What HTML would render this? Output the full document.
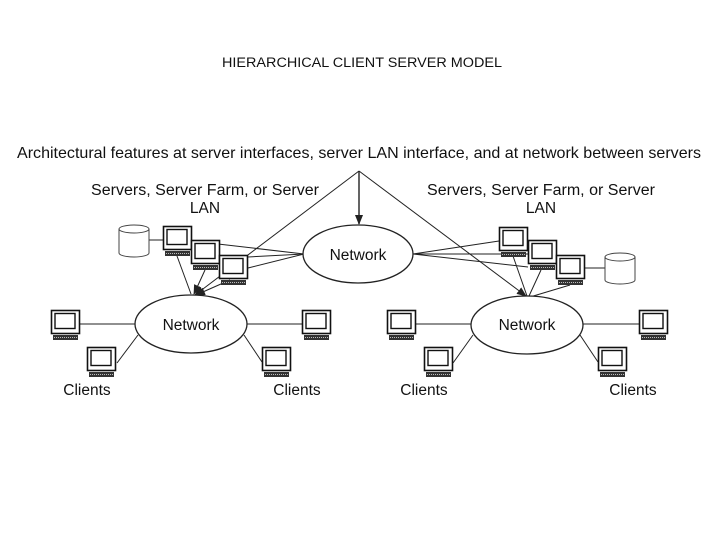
<!DOCTYPE html>
<html><head><style>
html,body{margin:0;padding:0;background:#fff;}
svg{display:block;}
text{font-family:"Liberation Sans",sans-serif;fill:#111;}
</style></head><body>
<svg width="720" height="540" viewBox="0 0 720 540" xmlns="http://www.w3.org/2000/svg">
<defs>
<g id="m">
<rect x="0.5" y="0.5" width="28" height="23" fill="#fff" stroke="#111" stroke-width="1.6"/>
<rect x="4" y="3.5" width="20" height="15" fill="#fff" stroke="#111" stroke-width="1.4"/>
<rect x="2" y="25" width="25" height="5" fill="#333"/>
<line x1="3" y1="27.5" x2="26" y2="27.5" stroke="#bbb" stroke-width="1" stroke-dasharray="1,1"/>
</g>
<marker id="a" markerWidth="10" markerHeight="8" refX="9" refY="4" orient="auto" markerUnits="userSpaceOnUse">
<path d="M0,0 L10,4 L0,8 Z" fill="#222"/>
</marker>
</defs>
<text x="362" y="67" font-size="13.5" text-anchor="middle" textLength="280" lengthAdjust="spacingAndGlyphs">HIERARCHICAL CLIENT SERVER MODEL</text>
<text x="17" y="158" font-size="16" textLength="684" lengthAdjust="spacingAndGlyphs">Architectural features at server interfaces, server LAN interface, and at network between servers</text>
<text x="205" y="195" font-size="15.5" text-anchor="middle" textLength="228" lengthAdjust="spacingAndGlyphs">Servers, Server Farm, or Server</text>
<text x="205" y="213" font-size="15.5" text-anchor="middle">LAN</text>
<text x="541" y="195" font-size="15.5" text-anchor="middle" textLength="228" lengthAdjust="spacingAndGlyphs">Servers, Server Farm, or Server</text>
<text x="541" y="213" font-size="15.5" text-anchor="middle">LAN</text>

<g stroke="#222" stroke-width="1" fill="none">
<!-- apex lines -->
<line x1="359" y1="171" x2="195" y2="295" marker-end="url(#a)"/>
<line x1="359" y1="171" x2="359" y2="224" marker-end="url(#a)" stroke-width="1.4"/>
<line x1="359" y1="171" x2="526" y2="296" marker-end="url(#a)"/>
<!-- left servers to network top -->
<line x1="218" y1="244" x2="304" y2="254"/>
<line x1="248" y1="257" x2="304" y2="254"/>
<line x1="248" y1="268" x2="304" y2="254"/>
<!-- left servers to left network -->
<line x1="177" y1="256" x2="191" y2="294"/>
<line x1="205" y1="270" x2="194" y2="294" marker-end="url(#a)"/>
<line x1="230" y1="280" x2="196" y2="295" marker-end="url(#a)"/>
<!-- cylinders -->
<line x1="149" y1="240" x2="163" y2="240"/>
<line x1="585" y1="268" x2="605" y2="268"/>
<!-- right servers to top network -->
<line x1="413" y1="254" x2="499" y2="241"/>
<line x1="413" y1="254" x2="528" y2="254"/>
<line x1="413" y1="254" x2="528" y2="267"/>
<!-- right servers to right network -->
<line x1="513" y1="256" x2="527" y2="296"/>
<line x1="541" y1="270" x2="529" y2="296"/>
<line x1="570" y1="285" x2="530" y2="297"/>
<!-- client lines -->
<line x1="80" y1="324" x2="135" y2="324"/>
<line x1="117" y1="363" x2="138" y2="335"/>
<line x1="247" y1="324" x2="302" y2="324"/>
<line x1="244" y1="335" x2="262" y2="362"/>
<line x1="416" y1="324" x2="471" y2="324"/>
<line x1="453" y1="363" x2="473" y2="335"/>
<line x1="583" y1="324" x2="639" y2="324"/>
<line x1="580" y1="335" x2="598" y2="362"/>
</g>

<g fill="#fff" stroke="#222" stroke-width="1.3">
<ellipse cx="358" cy="254" rx="55" ry="29"/>
<ellipse cx="191" cy="324" rx="56" ry="29"/>
<ellipse cx="527" cy="325" rx="56" ry="29"/>
</g>
<text x="358" y="260" font-size="15.5" text-anchor="middle">Network</text>
<text x="191" y="330" font-size="15.5" text-anchor="middle">Network</text>
<text x="527" y="330" font-size="15.5" text-anchor="middle">Network</text>

<!-- cylinders -->
<g fill="#fff" stroke="#444" stroke-width="1">
<path d="M119,229 v24 a15,4 0 0 0 30,0 v-24"/>
<ellipse cx="134" cy="229" rx="15" ry="4"/>
<path d="M605,257 v23 a15,4 0 0 0 30,0 v-23"/>
<ellipse cx="620" cy="257" rx="15" ry="4"/>
</g>

<use href="#m" x="163" y="226"/>
<use href="#m" x="191" y="240"/>
<use href="#m" x="219" y="255"/>
<use href="#m" x="499" y="227"/>
<use href="#m" x="528" y="240"/>
<use href="#m" x="556" y="255"/>

<use href="#m" x="51" y="310"/>
<use href="#m" x="87" y="347"/>
<use href="#m" x="302" y="310"/>
<use href="#m" x="262" y="347"/>
<use href="#m" x="387" y="310"/>
<use href="#m" x="424" y="347"/>
<use href="#m" x="639" y="310"/>
<use href="#m" x="598" y="347"/>

<text x="87" y="395" font-size="15.5" text-anchor="middle">Clients</text>
<text x="297" y="395" font-size="15.5" text-anchor="middle">Clients</text>
<text x="424" y="395" font-size="15.5" text-anchor="middle">Clients</text>
<text x="633" y="395" font-size="15.5" text-anchor="middle">Clients</text>
</svg>
</body></html>
